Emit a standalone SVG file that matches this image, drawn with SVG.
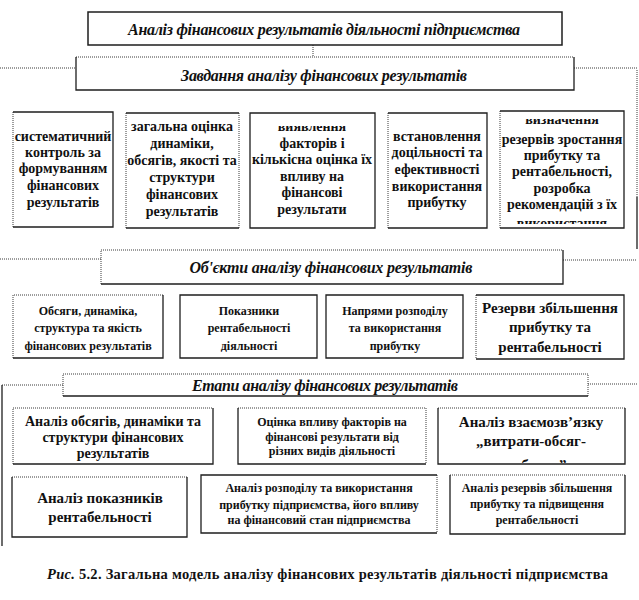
<svg xmlns="http://www.w3.org/2000/svg" width="639" height="600" viewBox="0 0 639 600">
<style>
.bg{fill:#fff;stroke:none}
.s{fill:none;stroke:#1e1e1e;stroke-width:1.3}
.d{fill:none;stroke:#3a3a3a;stroke-width:1;stroke-dasharray:1 1}
.h{font-family:"Liberation Serif","Times New Roman",serif;font-style:italic;font-weight:bold;font-size:16px;fill:#111;text-anchor:middle}
.t{font-family:"Liberation Serif","Times New Roman",serif;font-weight:bold;font-size:14px;fill:#111;text-anchor:middle}
.m{font-family:"Liberation Serif","Times New Roman",serif;font-weight:bold;font-size:15px;fill:#111;text-anchor:middle}
.sm{font-family:"Liberation Serif","Times New Roman",serif;font-weight:bold;font-size:12px;fill:#111;text-anchor:middle}
.cap{font-family:"Liberation Serif","Times New Roman",serif;font-weight:bold;font-size:14.5px;fill:#111}
</style>
<defs>
<clipPath id="c3"><rect x="250" y="126" width="125" height="102"/></clipPath>
<clipPath id="c5"><rect x="500" y="119" width="124" height="105"/></clipPath>
<clipPath id="ca3"><rect x="438" y="408" width="187" height="55"/></clipPath>
</defs>

<g id="connectors">
<path class="d" d="M313 45V57"/>
<path class="d" d="M0 68H76"/>
<path class="d" d="M574 68H637"/>
<path class="d" d="M637 70V197"/>
<path class="s" d="M637 197V249"/>
<path class="d" d="M0 259H101"/>
<path class="d" d="M563 260H637"/>
<path class="d" d="M63 385H2"/>
<path class="s" d="M2 385V546"/>
<path class="d" d="M588 384H637"/>
</g>

<g id="title">
<rect class="bg" x="88" y="12" width="474" height="33"/>
<path class="s" d="M88 12H562V45H88Z" style="stroke-width:1.5"/>
<text class="h" x="324" y="35" textLength="392">Аналіз фінансових результатів діяльності підприємства</text>
</g>

<g id="tasks-header">
<rect class="bg" x="76" y="57" width="498" height="33"/>
<path class="d" d="M76 57H574"/>
<path class="s" d="M574 57V90H76V57"/>
<text class="h" x="324" y="81" textLength="286">Завдання аналізу фінансових результатів</text>
</g>

<g id="task1">
<rect class="bg" x="13" y="112" width="100" height="115"/>
<path class="d" d="M13 112V227"/>
<path class="s" d="M13 112H113V227H13"/>
<text class="t"><tspan x="63" y="141">систематичний</tspan><tspan x="63" y="157">контроль за</tspan><tspan x="63" y="173">формуванням</tspan><tspan x="63" y="190">фінансових</tspan><tspan x="63" y="207">результатів</tspan></text>
</g>

<g id="task2">
<rect class="bg" x="126" y="113" width="113" height="115"/>
<path class="d" d="M126 113V228M239 113V228"/>
<path class="s" d="M126 113H239M126 228H239"/>
<text class="t"><tspan x="182" y="131">загальна оцінка</tspan><tspan x="182" y="148">динаміки,</tspan><tspan x="182" y="165">обсягів, якості та</tspan><tspan x="182" y="182">структури</tspan><tspan x="182" y="199">фінансових</tspan><tspan x="182" y="216">результатів</tspan></text>
</g>

<g id="task3">
<rect class="bg" x="250" y="113" width="125" height="115"/>
<path class="s" d="M250 113H375V228H250Z"/>
<text class="t" clip-path="url(#c3)"><tspan x="312" y="131">виявлення</tspan><tspan x="312" y="148">факторів і</tspan><tspan x="312" y="164">кількісна оцінка їх</tspan><tspan x="312" y="181">впливу на</tspan><tspan x="312" y="197">фінансові</tspan><tspan x="312" y="214">результати</tspan></text>
</g>

<g id="task4">
<rect class="bg" x="388" y="113" width="99" height="115"/>
<path class="d" d="M388 113V228"/>
<path class="s" d="M388 113H487V228H388"/>
<text class="t"><tspan x="437" y="141">встановлення</tspan><tspan x="437" y="157">доцільності та</tspan><tspan x="437" y="174">ефективності</tspan><tspan x="437" y="191">використання</tspan><tspan x="437" y="207">прибутку</tspan></text>
</g>

<g id="task5">
<rect class="bg" x="500" y="111" width="124" height="117"/>
<path class="d" d="M500 111V228"/>
<path class="s" d="M500 111H624V228H500"/>
<text class="t" clip-path="url(#c5)"><tspan x="562" y="124">визначення</tspan><tspan x="562" y="144">резервів зростання</tspan><tspan x="562" y="160">прибутку та</tspan><tspan x="562" y="176">рентабельності,</tspan><tspan x="562" y="193">розробка</tspan><tspan x="562" y="209">рекомендацій з їх</tspan><tspan x="562" y="228">використання</tspan></text>
</g>

<g id="objects-header">
<rect class="bg" x="101" y="250" width="462" height="34"/>
<path class="d" d="M101 284V250H563"/>
<path class="s" d="M563 250V284H101"/>
<text class="h" x="331" y="273" textLength="283">Об'єкти аналізу фінансових результатів</text>
</g>

<g id="obj1">
<rect class="bg" x="13" y="295" width="150" height="63"/>
<path class="d" d="M13 358V295H163"/>
<path class="s" d="M163 295V358H13"/>
<text class="sm"><tspan x="88" y="315">Обсяги, динаміка,</tspan><tspan x="88" y="332">структура та якість</tspan><tspan x="88" y="350">фінансових  результатів</tspan></text>
</g>

<g id="obj2">
<rect class="bg" x="180" y="295" width="137" height="63"/>
<path class="s" d="M180 295H317V358H180Z"/>
<text class="sm"><tspan x="249" y="315">Показники</tspan><tspan x="249" y="332">рентабельності</tspan><tspan x="249" y="350">діяльності</tspan></text>
</g>

<g id="obj3">
<rect class="bg" x="326" y="295" width="137" height="63"/>
<path class="s" d="M326 295H463V358H326Z"/>
<text class="sm"><tspan x="395" y="315">Напрями розподілу</tspan><tspan x="395" y="332">та використання</tspan><tspan x="395" y="350">прибутку</tspan></text>
</g>

<g id="obj4">
<rect class="bg" x="476" y="295" width="148" height="64"/>
<path class="d" d="M476 295V359"/>
<path class="s" d="M476 295H624V359H476"/>
<text class="m"><tspan x="550" y="313">Резерви збільшення</tspan><tspan x="550" y="332">прибутку та</tspan><tspan x="550" y="352">рентабельності</tspan></text>
</g>

<g id="stages-header">
<rect class="bg" x="63" y="374" width="525" height="22"/>
<path class="d" d="M63 396V374H588V396"/>
<path class="s" d="M63 396H588"/>
<text class="h" x="325" y="391" textLength="266">Етапи аналізу фінансових результатів</text>
</g>

<g id="stage1">
<rect class="bg" x="13" y="408" width="200" height="56"/>
<path class="d" d="M13 464V408H213"/>
<path class="s" d="M213 408V464H13"/>
<text class="t"><tspan x="113" y="426">Аналіз обсягів, динаміки та</tspan><tspan x="113" y="442">структури фінансових</tspan><tspan x="113" y="458">результатів</tspan></text>
</g>

<g id="stage2">
<rect class="bg" x="238" y="408" width="188" height="56"/>
<path class="d" d="M238 408H426V464"/>
<path class="s" d="M238 408V464H426"/>
<text class="sm"><tspan x="332" y="426">Оцінка впливу факторів на</tspan><tspan x="332" y="441">фінансові результати від</tspan><tspan x="332" y="455">різних видів діяльності</tspan></text>
</g>

<g id="stage3">
<rect class="bg" x="438" y="408" width="187" height="56"/>
<path class="d" d="M438 408H625"/>
<path class="s" d="M625 408V464H438V408"/>
<text class="m" clip-path="url(#ca3)"><tspan x="531" y="427">Аналіз взаємозв’язку</tspan><tspan x="531" y="446">„витрати-обсяг-</tspan><tspan x="531" y="470">прибуток”</tspan></text>
</g>

<g id="stage4">
<rect class="bg" x="12" y="477" width="175" height="60"/>
<path class="d" d="M12 477H187"/>
<path class="s" d="M187 477V537H12V477"/>
<text class="m"><tspan x="100" y="503">Аналіз показників</tspan><tspan x="100" y="522">рентабельності</tspan></text>
</g>

<g id="stage5">
<rect class="bg" x="201" y="475" width="236" height="58"/>
<path class="d" d="M437 475V533"/>
<path class="s" d="M437 475H201V533H437"/>
<text class="sm"><tspan x="319" y="492">Аналіз розподілу та використання</tspan><tspan x="319" y="509">прибутку підприємства, його впливу</tspan><tspan x="319" y="524">на фінансовий стан підприємства</tspan></text>
</g>

<g id="stage6">
<rect class="bg" x="450" y="475" width="175" height="59"/>
<path class="d" d="M450 475H625"/>
<path class="s" d="M625 475V534H450V475"/>
<text class="sm"><tspan x="537" y="492">Аналіз резервів збільшення</tspan><tspan x="537" y="508">прибутку та підвищення</tspan><tspan x="537" y="524">рентабельності</tspan></text>
</g>

<g id="caption">
<text class="cap" x="47" y="579" textLength="561"><tspan font-style="italic">Рис.</tspan> 5.2. Загальна модель аналізу фінансових результатів діяльності підприємства</text>
</g>
</svg>
